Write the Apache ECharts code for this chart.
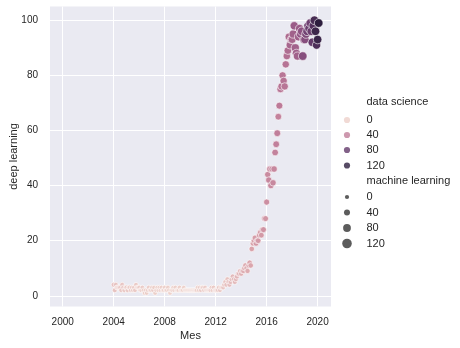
<!DOCTYPE html>
<html><head><meta charset="utf-8">
<script src="https://cdn.jsdelivr.net/npm/echarts@6/dist/echarts.min.js"></script>
<style>html,body{margin:0;padding:0;background:#fff}#c{width:460px;height:348px}</style>
</head><body><div id="c"></div>
<script>
// Monthly data from 2004-01 to 2020-02
const startYear = 2004;
const deepLearning = [
  4,2,4,3,3,3,3,2,4,3,2,3,
  3,2,3,3,2,3,2,3,2,4,3,3,
  3,2,2,3,2,1,2,1,2,3,2,2,
  3,2,3,1,2,3,2,3,2,3,2,2,
  3,2,2,3,2,1,2,2,3,2,3,2,
  2,2,3,2,2,2,3,2,2,2,2,2,
  2,2,2,2,2,2,2,3,2,3,2,3,
  3,2,3,2,2,2,2,2,3,2,3,2,
  2,2,2,3,2,3,3,3,4,5,4,6,
  5,4,5,6,7,6,5,6,7,8,8,9,
  8,9,9,10,11,10,9,11,12,11,17,19,
  20,21,19,20,20,22,23,22,24,24,28,28,
  34,44,42,46,40,46,41,46,52,55,59,65,
  69,75,76,80,78,76,84,87,89,94,91,93,
  93,95,98,90,88,87,94,97,95,96,87,93,
  93,95,96,98,97,99,96,92,98,100,96,91,
  93,99
];
const dataScience = [
  10,9,9,8,8,7,7,7,8,8,7,6,
  7,7,6,6,6,5,5,5,6,6,5,5,
  5,5,5,5,4,4,4,4,4,5,5,4,
  4,5,4,4,4,4,4,4,4,4,4,3,
  4,4,4,4,4,3,3,3,4,4,4,3,
  4,4,4,4,4,3,3,3,4,4,4,4,
  4,4,4,4,4,4,4,4,4,5,5,4,
  5,5,5,5,5,5,5,5,5,6,6,6,
  6,7,7,7,7,7,7,8,9,9,10,9,
  11,12,12,13,13,13,13,13,15,15,16,15,
  17,18,19,19,20,19,19,20,22,22,23,22,
  24,26,27,27,27,26,26,27,29,30,31,29,
  32,34,36,35,35,34,35,36,38,39,40,38,
  42,44,45,44,45,44,45,47,49,50,52,49,
  52,55,58,55,56,55,56,58,62,64,66,62,
  66,70,74,75,77,75,77,80,86,90,94,88,
  95,100
];
const machineLearning = [
  19,17,16,15,14,13,13,13,14,14,13,11,
  13,13,12,12,11,10,10,10,11,11,11,9,
  11,10,10,10,9,8,8,8,9,10,9,8,
  9,9,9,9,8,7,7,7,8,9,8,7,
  8,8,8,8,7,7,6,6,7,8,8,6,
  8,8,8,8,7,7,6,6,7,8,8,7,
  8,8,8,8,7,7,7,7,8,9,9,7,
  9,9,9,9,8,8,8,8,9,10,10,9,
  10,11,11,11,11,11,11,12,13,14,15,14,
  16,17,17,17,17,17,17,18,20,21,22,20,
  22,23,24,24,25,24,24,25,27,28,29,27,
  30,32,33,33,34,34,33,35,38,39,41,39,
  43,46,48,48,49,49,49,52,55,57,59,56,
  62,66,70,69,71,70,71,74,78,80,83,78,
  84,89,92,89,90,88,88,92,95,97,99,92,
  92,96,98,98,100,96,95,96,99,100,98,92,
  96,100
];
const xTicks = [2000, 2004, 2008, 2012, 2016, 2020];
const yTicks = [0, 20, 40, 60, 80, 100];
const hueLevels = [0, 40, 80, 120];
const sizeLevels = [0, 40, 80, 120];

const palette = ['#edd1cb','#daa4ac','#bd7a98','#945685','#613969','#2d1e3e'];
const sizeRange = [4.5, 8.7];
const textColor = '#262626';
const font = 'Liberation Sans, Arial, sans-serif';

const rows = deepLearning.map((v, i) => [startYear + i / 12, v, dataScience[i], machineLearning[i]]);
const dsMin = Math.min(...dataScience), dsMax = Math.max(...dataScience);
const mlMin = Math.min(...machineLearning), mlMax = Math.max(...machineLearning);

function hueColor(v) {
  const t = Math.max(0, Math.min(1, (v - dsMin) / (dsMax - dsMin)));
  return echarts.color.lerp(t, palette);
}
function sizeOf(v) {
  const t = (v - mlMin) / (mlMax - mlMin);
  return Math.max(4, sizeRange[0] + t * (sizeRange[1] - sizeRange[0]));
}

const series = [{
  type: 'scatter',
  name: 'main',
  data: rows,
  encode: { x: 0, y: 1 },
  itemStyle: { borderColor: '#ffffff', borderWidth: 0.6, opacity: 1 },
  emphasis: { disabled: true }
}];
const legends = [];
const titles = [];
const labelMap = {};
const markerX = 347, textX = 366.5;
const hueCenters = [120, 135, 150, 165.5];
const sizeCenters = [197, 212.5, 228, 243.5];

function addLegend(nm, lv, size, cy) {
  labelMap[nm] = String(lv);
  legends.push({
    data: [{ name: nm, icon: 'circle' }],
    left: markerX - size / 2, top: cy - 7,
    itemWidth: size, itemHeight: size, padding: 0, selectedMode: false,
    formatter: n => labelMap[n],
    textStyle: { fontSize: 11, color: textColor, fontFamily: font, lineHeight: 14,
      padding: [0, 0, 0, textX - 5 - markerX - size / 2] }
  });
}
hueLevels.forEach((lv, k) => {
  const nm = 'data science ' + lv;
  series.push({ type: 'scatter', name: nm, data: [], itemStyle: { color: hueColor(lv) } });
  addLegend(nm, lv, 6.2, hueCenters[k]);
});
sizeLevels.forEach((lv, k) => {
  const nm = 'machine learning ' + lv;
  series.push({ type: 'scatter', name: nm, data: [], itemStyle: { color: '#333333' } });
  addLegend(nm, lv, sizeOf(lv), sizeCenters[k]);
});
titles.push({ text: 'data science', left: textX, top: 96.5, padding: 0,
  textStyle: { fontSize: 11, fontWeight: 'normal', color: textColor, fontFamily: font } });
titles.push({ text: 'machine learning', left: textX, top: 175, padding: 0,
  textStyle: { fontSize: 11, fontWeight: 'normal', color: textColor, fontFamily: font } });

const chart = echarts.init(document.getElementById('c'), null, { renderer: 'canvas' });
chart.setOption({
  animation: false,
  backgroundColor: '#ffffff',
  textStyle: { fontFamily: font },
  title: titles,
  legend: legends,
  grid: { left: 50, right: 129, top: 6.5, bottom: 41.5, show: true, backgroundColor: '#eaeaf2', borderWidth: 0,
    containLabel: false, outerBoundsMode: 'none' },
  xAxis: {
    type: 'value', min: 1999.0, max: 2021.05,
    name: 'Mes', nameLocation: 'middle', nameGap: 24, nameMoveOverlap: false,
    nameTextStyle: { fontSize: 11, color: textColor, fontFamily: font },
    axisLine: { show: false },
    axisTick: { show: false, customValues: xTicks },
    axisLabel: { customValues: xTicks, formatter: v => String(v), fontSize: 10, color: textColor, margin: 11, fontFamily: font },
    splitLine: { show: true, lineStyle: { color: '#ffffff', width: 1 } }
  },
  yAxis: {
    type: 'value', min: -3.9, max: 105,
    name: 'deep learning', nameLocation: 'middle', nameGap: 31, nameMoveOverlap: false,
    nameTextStyle: { fontSize: 11, color: textColor, fontFamily: font },
    axisLine: { show: false },
    axisTick: { show: false, customValues: yTicks },
    axisLabel: { customValues: yTicks, formatter: v => String(v), fontSize: 10, color: textColor, margin: 12, fontFamily: font },
    splitLine: { show: true, lineStyle: { color: '#ffffff', width: 1 } }
  },
  visualMap: [
    { type: 'continuous', show: false, seriesIndex: 0, dimension: 2, min: dsMin, max: dsMax, inRange: { color: palette } },
    { type: 'continuous', show: false, seriesIndex: 0, dimension: 3, min: mlMin, max: mlMax, inRange: { symbolSize: sizeRange } }
  ],
  series: series
});
</script>
</body></html>
